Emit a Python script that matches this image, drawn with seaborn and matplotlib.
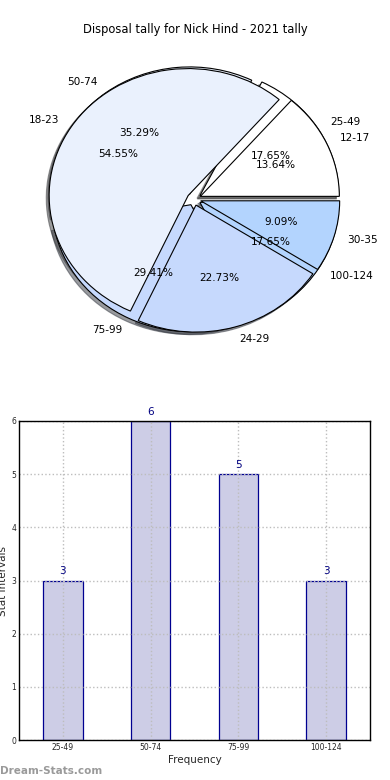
import matplotlib
matplotlib.use("Agg")
import matplotlib.pyplot as plt
import seaborn as sns
import pandas as pd

sns.set_style("white")
plt.rcParams['font.family'] = ['DejaVu Sans']

# Data
title = "Disposal tally for Nick Hind - 2021 tally"
disposal_labels = ["12-17", "18-23", "24-29", "30-35"]
disposal_counts = [3, 12, 5, 2]
stat_labels = ["25-49", "50-74", "75-99", "100-124"]
stat_counts = [3, 6, 5, 3]
pie_colors = ["#ffffff", "#eaf1fd", "#c6d9fd", "#b3d4fe"]

fig = plt.figure(figsize=(3.9, 7.8), dpi=100)

# ---- Pie chart ----
W, H = 390.0, 780.0
cx, cy, rx, ry = 194.0, 199.0, 139.0, 127.0
lim = 1.35
axp = fig.add_axes([(cx - lim * rx) / W, 1 - (cy + lim * ry) / H,
                    2 * lim * rx / W, 2 * lim * ry / H])

for labels, counts in [(stat_labels, stat_counts), (disposal_labels, disposal_counts)]:
    axp.pie(
        counts, labels=labels, colors=pie_colors, autopct="%1.2f%%",
        explode=[0.05] * len(counts),
        shadow=dict(ox=-0.015, oy=-0.015, shade=0.75), startangle=0,
        wedgeprops=dict(edgecolor="black", linewidth=0.8),
        textprops=dict(fontsize=7.6, color="#000000"), frame=False)
axp.set_xlim(-lim, lim)
axp.set_ylim(-lim, lim)
axp.set_aspect("auto")
axp.axis("off")

fig.text(0.5, 1 - 30 / H, title, ha="center", va="center", fontsize=8.3, color="black")

# ---- Bar chart ----
axb = fig.add_axes([19 / W, 1 - 740 / H, 351 / W, 319 / H])
df = pd.DataFrame({"interval": stat_labels, "count": stat_counts})
sns.barplot(data=df, x="interval", y="count", ax=axb, color="#cdcde6",
            width=0.45, edgecolor="#000090", linewidth=0.9, saturation=1)
axb.set_xlim(-0.5, 3.5)
axb.set_ylim(0, 6)
axb.set_yticks(range(0, 7))
axb.grid(True, linestyle=":", color="#bdbdbd", linewidth=1.0, zorder=2.2)
axb.set_axisbelow(False)
for i, v in enumerate(stat_counts):
    axb.text(i, v + 0.08, str(v), ha="center", va="bottom", color="#000080", fontsize=7.5)
axb.tick_params(axis="both", labelsize=5.5, direction="in", length=2, pad=2)
for s in axb.spines.values():
    s.set_color("black")
    s.set_linewidth(1.0)
    s.set_zorder(5)
axb.set_xlabel("Frequency", fontsize=7.5, labelpad=2)
axb.set_ylabel("Stat Intervals", fontsize=7.5)
axb.yaxis.set_label_coords(-0.03, 0.5)

fig.text(0.0, 1 - 771 / H, "Dream-Stats.com", ha="left", va="center",
         fontsize=7.5, fontweight="bold", color="#9a9a9a")

fig.savefig("out.png", dpi=100)
